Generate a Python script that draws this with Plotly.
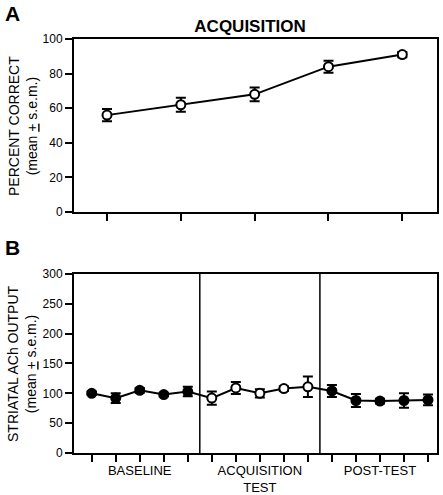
import plotly.graph_objects as go

# ---------------- data ----------------
acq_sessions = [1, 2, 3, 4, 5]
acq_percent = [56, 62, 68, 84, 91]
acq_sem = [3.5, 4, 4, 3.5, 1.5]

baseline_ach = [100, 92, 105, 98, 103]
baseline_sem = [3, 8, 4, 3, 8]
test_ach = [92, 109, 100, 108, 111]
test_sem = [11, 10, 7, 4, 17]
post_ach = [104, 88, 87, 88, 89]
post_sem = [10, 11, 4, 12, 9]
phase_labels = ["BASELINE", "ACQUISITION<br>TEST", "POST-TEST"]

top_yticks = [0, 20, 40, 60, 80, 100]
bottom_yticks = [0, 50, 100, 150, 200, 250, 300]

# ---------------- derived positions ----------------
groups = [baseline_ach, test_ach, post_ach]
sems = [baseline_sem, test_sem, post_sem]
x_groups = []
start = 1
for g in groups:
    x_groups.append(list(range(start, start + len(g))))
    start += len(g)
all_x = [x for xs in x_groups for x in xs]
all_y = [y for g in groups for y in g]
group_centers = [xs[len(xs) // 2] for xs in x_groups]
dividers = [xs[-1] + 0.5 for xs in x_groups[:-1]]

FONT = "Arial, Liberation Sans, sans-serif"
BLACK = "black"

W, H = 443, 495

fig = go.Figure()

# Panel A
fig.add_trace(go.Scatter(
    x=acq_sessions, y=acq_percent, mode="lines+markers",
    line=dict(color=BLACK, width=2),
    marker=dict(symbol="circle", size=9, color="white", line=dict(color=BLACK, width=2)),
    error_y=dict(type="data", array=acq_sem, color=BLACK, thickness=2, width=5),
    xaxis="x", yaxis="y", showlegend=False,
))

# Panel B connecting line
fig.add_trace(go.Scatter(
    x=all_x, y=all_y, mode="lines", line=dict(color=BLACK, width=2),
    xaxis="x2", yaxis="y2", showlegend=False, hoverinfo="skip",
))
fills = [BLACK, "white", BLACK]
for xs, g, s, fc in zip(x_groups, groups, sems, fills):
    fig.add_trace(go.Scatter(
        x=xs, y=g, mode="markers",
        marker=dict(symbol="circle", size=9, color=fc, line=dict(color=BLACK, width=2)),
        error_y=dict(type="data", array=s, color=BLACK, thickness=2, width=5),
        xaxis="x2", yaxis="y2", showlegend=False,
    ))

axis_common = dict(
    showline=True, linecolor=BLACK, linewidth=2, mirror=True,
    ticks="outside", ticklen=7, tickwidth=1.5, tickcolor=BLACK,
    showgrid=False, zeroline=False, automargin=False,
    tickfont=dict(family=FONT, size=12, color=BLACK),
)

shapes = []
for d in dividers:
    shapes.append(dict(type="line", xref="x2", yref="y2 domain", x0=d, x1=d, y0=0, y1=1,
                       line=dict(color=BLACK, width=1.5)))

fig.update_layout(
    width=W, height=H,
    margin=dict(l=74, r=6, t=39, b=42, autoexpand=False),
    paper_bgcolor="white", plot_bgcolor="white",
    font=dict(family=FONT, color=BLACK),
    title=dict(text="<b>ACQUISITION</b>", font=dict(family=FONT, size=17, color=BLACK),
               xref="paper", x=0.485, xanchor="center", yref="container", y=1 - 26 / H,
               yanchor="middle"),
    xaxis=dict(axis_common, domain=[0, 1], anchor="y", range=[0.553, 5.47],
               tickvals=acq_sessions, ticktext=[""] * len(acq_sessions)),
    yaxis=dict(axis_common, domain=[0.5821, 1], anchor="x", range=[0, 100],
               tickvals=top_yticks),
    xaxis2=dict(axis_common, domain=[0, 1], anchor="y2", range=[0.263, 15.375],
                tickvals=all_x,
                ticktext=[phase_labels[group_centers.index(x)] if x in group_centers else "" for x in all_x],
                tickfont=dict(family=FONT, size=13, color=BLACK),
                ticklabelstandoff=-3),
    yaxis2=dict(axis_common, domain=[0, 0.4324], anchor="x2", range=[0, 300],
                tickvals=bottom_yticks),
    shapes=shapes,
    annotations=[
        dict(text="<b>A</b>", xref="paper", yref="paper", x=-0.195, y=1.0604,
             xanchor="left", yanchor="middle", showarrow=False,
             font=dict(family=FONT, size=21, color=BLACK)),
        dict(text="<b>B</b>", xref="paper", yref="paper", x=-0.195, y=0.4952,
             xanchor="left", yanchor="middle", showarrow=False,
             font=dict(family=FONT, size=21, color=BLACK)),
        dict(text="PERCENT CORRECT<br>(mean <u>+</u> s.e.m.)", xref="paper", yref="paper",
             x=-0.1419, y=(0.5821 + 1) / 2, xanchor="center", yanchor="middle",
             textangle=-90, showarrow=False, font=dict(family=FONT, size=14, color=BLACK)),
        dict(text="STRIATAL ACh OUTPUT<br>(mean <u>+</u> s.e.m.)", xref="paper", yref="paper",
             x=-0.1419, y=0.4324 / 2, xanchor="center", yanchor="middle",
             textangle=-90, showarrow=False, font=dict(family=FONT, size=14, color=BLACK)),
    ],
)

# remove the page's default body margin so the figure sits at the window's corner
fig.write_html("out.html", config={"displayModeBar": False},
               post_script="document.body.style.margin='0';")
